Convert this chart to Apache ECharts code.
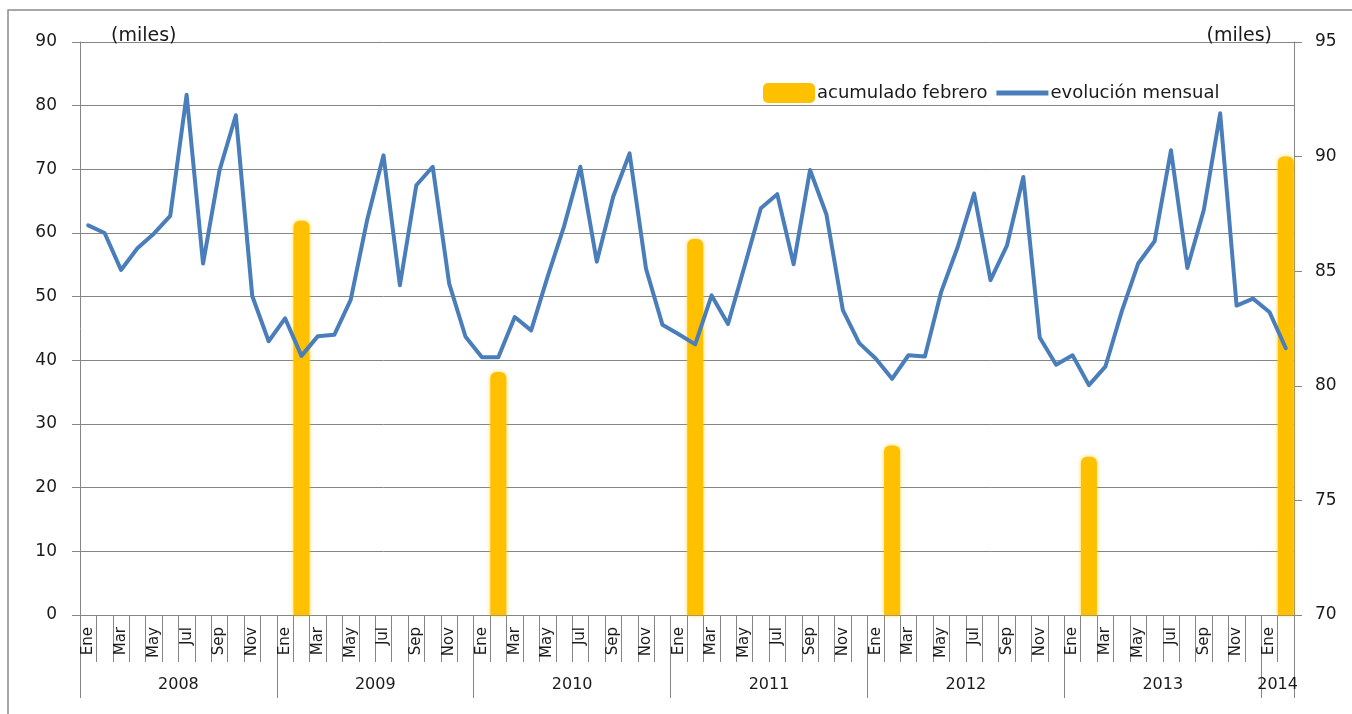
<!DOCTYPE html>
<html>
<head>
<meta charset="utf-8">
<script src="https://cdn.jsdelivr.net/npm/echarts@6/dist/echarts.min.js"></script>
<style>
  html, body { margin: 0; padding: 0; background: #ffffff; }
  #chart { width: 1352px; height: 714px; }
</style>
</head>
<body>
<div id="chart"></div>
<script>
// ---- Data ----
const monthNames = ['Ene','Feb','Mar','Abr','May','Jun','Jul','Ago','Sep','Oct','Nov','Dic'];
const years = ['2008','2009','2010','2011','2012','2013','2014'];
const monthsPerYear = [12, 12, 12, 12, 12, 12, 2];

// evolución mensual (miles) - left axis
const v2008 = [61.2, 60.0, 54.2, 57.6, 59.9, 62.7, 81.7, 55.2, 69.8, 78.5, 50.1, 43.0];
const v2009 = [46.6, 40.7, 43.8, 44.0, 49.5, 62.0, 72.2, 51.8, 67.5, 70.4, 52.1, 43.7];
const v2010 = [40.5, 40.5, 46.8, 44.7, 53.1, 61.0, 70.4, 55.5, 65.7, 72.5, 54.4, 45.6];
const v2011 = [44.1, 42.5, 50.2, 45.7, 54.7, 63.9, 66.1, 55.1, 69.9, 62.9, 47.9, 42.7];
const v2012 = [40.3, 37.1, 40.8, 40.6, 50.8, 57.8, 66.2, 52.6, 58.0, 68.8, 43.6, 39.3];
const v2013 = [40.8, 36.1, 39.0, 47.7, 55.2, 58.7, 73.0, 54.5, 63.6, 78.8, 48.6, 49.7];
const v2014 = [47.6, 41.9];

// acumulado febrero (miles) - right axis, one value per year (2009-2014)
const febYears = ['2009','2010','2011','2012','2013','2014'];
const febValues = [87.2, 80.6, 86.4, 77.4, 76.9, 90.0];

const leftTicks = {min: 0, max: 90, interval: 10};
const rightTicks = {min: 70, max: 95, interval: 5};

// ---- Build series arrays ----
const monthly = [].concat(v2008, v2009, v2010, v2011, v2012, v2013, v2014);
const categories = [];
const barData = [];
const yearStart = [];
let idx = 0;
years.forEach(function (y, yi) {
  yearStart.push(idx);
  for (let m = 0; m < monthsPerYear[yi]; m++) {
    categories.push(monthNames[m]);
    const fi = febYears.indexOf(y);
    barData.push(m === 1 && fi >= 0 ? febValues[fi] : null);
    idx++;
  }
});
const total = idx;
const yearTickPos = yearStart.concat([total]);
const yearLabelPos = years.map(function (y, yi) { return yearStart[yi] + monthsPerYear[yi] / 2; });

const gray = '#858585';
const font = 'DejaVu Sans';
const lineColor = '#4A7EBB';

const chart = echarts.init(document.getElementById('chart'), null, {renderer: 'canvas'});
chart.setOption({
  animation: false,
  backgroundColor: '#ffffff',
  graphic: [{
    type: 'rect',
    shape: {x: 8, y: 10, width: 1400, height: 760},
    style: {fill: 'none', stroke: '#8c8c8c', lineWidth: 1.5},
    silent: true,
    z: -1
  }],
  grid: {left: 80, right: 58, top: 42, bottom: 99, containLabel: false, outerBoundsMode: 'none'},
  legend: {
    left: 763, top: 83, padding: 0,
    itemWidth: 52, itemHeight: 20, itemGap: 9,
    textStyle: {fontFamily: font, fontSize: 18, color: '#1a1a1a', padding: [0, 0, 0, -3]},
    data: [
      {name: 'acumulado febrero', icon: 'roundRect'},
      {name: 'evolución mensual', icon: 'path://M0,0 L48,0 L48,4.5 L0,4.5 Z', itemStyle: {color: lineColor}}
    ]
  },
  xAxis: [{
    type: 'category',
    data: categories,
    boundaryGap: true,
    axisLine: {show: true, lineStyle: {color: gray, width: 1}},
    axisTick: {show: true, interval: 0, length: 47, lineStyle: {color: gray}},
    axisLabel: {
      interval: 1, rotate: 90, margin: 12,
      fontFamily: font, fontSize: 15, color: '#1a1a1a'
    },
    splitLine: {show: false}
  }, {
    type: 'value',
    position: 'bottom',
    min: 0, max: total,
    axisLine: {show: false},
    splitLine: {show: false},
    axisTick: {show: true, length: 83, customValues: yearTickPos, lineStyle: {color: gray}},
    axisLabel: {
      customValues: yearLabelPos, margin: 62,
      fontFamily: font, fontSize: 16, color: '#1a1a1a',
      formatter: function (v) {
        const i = yearLabelPos.indexOf(v);
        return i >= 0 ? years[i] : '';
      }
    }
  }],
  yAxis: [{
    type: 'value',
    min: leftTicks.min, max: leftTicks.max, interval: leftTicks.interval,
    name: '(miles)', nameLocation: 'end', nameGap: 6,
    nameTextStyle: {fontFamily: font, fontSize: 19, color: '#1a1a1a', align: 'left', verticalAlign: 'middle', padding: [0, 0, 0, 31]},
    axisLine: {show: true, lineStyle: {color: gray}},
    axisTick: {show: true, length: 8, lineStyle: {color: gray}},
    axisLabel: {margin: 23, fontFamily: font, fontSize: 17, color: '#1a1a1a'},
    splitLine: {show: true, lineStyle: {color: gray, width: 1}}
  }, {
    type: 'value',
    position: 'right',
    min: rightTicks.min, max: rightTicks.max, interval: rightTicks.interval,
    name: '(miles)', nameLocation: 'end', nameGap: 6,
    nameTextStyle: {fontFamily: font, fontSize: 19, color: '#1a1a1a', align: 'right', verticalAlign: 'middle', padding: [0, 22, 0, 0]},
    axisLine: {show: true, lineStyle: {color: gray}},
    axisTick: {show: true, length: 8, lineStyle: {color: gray}},
    axisLabel: {margin: 21, fontFamily: font, fontSize: 17, color: '#1a1a1a'},
    splitLine: {show: false}
  }],
  series: [{
    name: 'acumulado febrero',
    type: 'bar',
    xAxisIndex: 0, yAxisIndex: 1,
    data: barData,
    barWidth: 16,
    itemStyle: {
      color: '#FFC000',
      borderRadius: [6, 6, 0, 0],
      shadowBlur: 4, shadowColor: 'rgba(255, 200, 0, 0.7)'
    }
  }, {
    name: 'evolución mensual',
    type: 'line',
    xAxisIndex: 0, yAxisIndex: 0,
    data: monthly,
    symbol: 'none',
    showSymbol: false,
    lineStyle: {color: lineColor, width: 4, join: 'round', cap: 'round'},
    itemStyle: {color: lineColor}
  }]
});
</script>
</body>
</html>
